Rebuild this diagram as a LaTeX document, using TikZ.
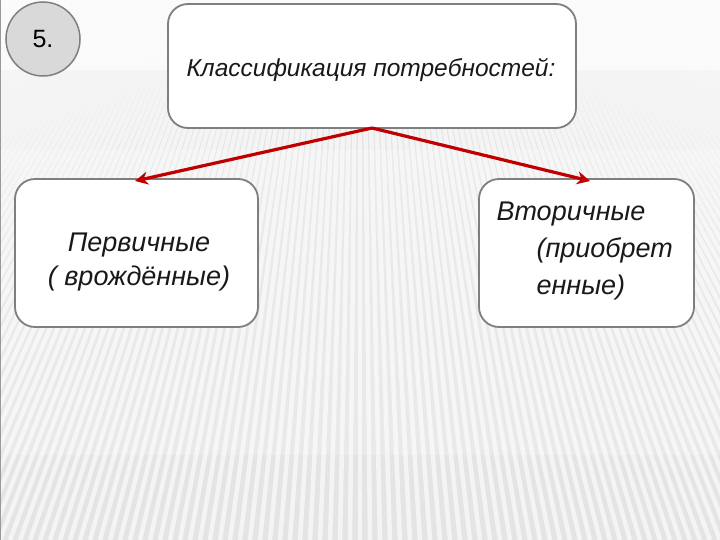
\documentclass[tikz,border=0pt]{standalone}
\usepackage{fontspec}
\setmainfont{Liberation Sans}
\usetikzlibrary{arrows.meta}
\definecolor{bordergray}{HTML}{7F7F7F}
\definecolor{arrowred}{HTML}{C00000}
\definecolor{bggray}{HTML}{E4E4E4}
\definecolor{circfill}{HTML}{D9D9D9}
\tikzset{
  box/.style={draw=bordergray, line width=1.8pt, fill=white, rounded corners=20pt},
  lbl/.style={font=\itshape\fontsize{24.5}{28}\selectfont, text=black!90},
  conn/.style={draw=arrowred, line width=3.2pt, -{Stealth[length=13pt,width=13pt]}},
}
\begin{document}
\begin{tikzpicture}[x=1pt,y=-1pt]
\useasboundingbox (0,0) rectangle (720,540);
% background
\begin{scope}
\clip (0,0) rectangle (720,540);
\fill[bggray] (0,0) rectangle (720,540);
\foreach \i in {-1200,-1190,...,1920}{
  \draw[white, line width=4.5pt, opacity=0.6] (360,-400) -- (\i,540);
}
\fill[white, opacity=0.2] (0,150) rectangle (720,455);
\shade[top color=white, bottom color=white, opacity=0.6] (0,0) rectangle (720,70);
\end{scope}
\draw[black!70, line width=1pt] (0,0) -- (720,0);
\draw[black!40, line width=1pt] (0.5,0) -- (0.5,540);
% circle
\node[circle, draw=bordergray, line width=1.5pt, fill=circfill, minimum size=74pt, inner sep=0pt,
      font=\fontsize{25}{28}\selectfont] (num) at (43,39) {5.};
% boxes
\path[box] (168,4) rectangle (576,128);
\node[lbl] (top) at (371,70) {Классификация потребностей:};
\coordinate (tb) at (372,128);
\path[box] (15,179) rectangle (258,327);
\node[lbl, font=\itshape\fontsize{27}{34}\selectfont, align=center] (left) at (139,262) {Первичные\\( врождённые)};
\coordinate (lt) at (135,181);
\path[box] (479,179) rectangle (694,327);
\node[lbl, font=\itshape\fontsize{27}{37}\selectfont, align=left, anchor=north west] (right) at (493,198)
  {Вторичные\\\hspace*{40pt}(приобрет\\\hspace*{40pt}енные)};
\coordinate (rt) at (590,181);
% connectors
\draw[conn] (tb) -- (lt);
\draw[conn] (tb) -- (rt);
\end{tikzpicture}
\end{document}
